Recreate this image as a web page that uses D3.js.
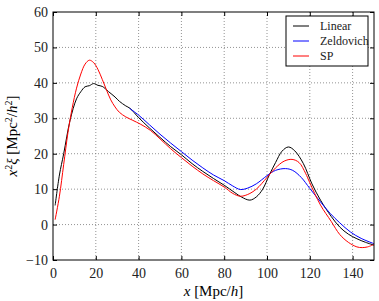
<!DOCTYPE html>
<html>
<head>
<meta charset="utf-8">
<script src="https://cdn.jsdelivr.net/npm/d3@7"></script>
<style>
  body { margin: 0; background: #fff; }
</style>
</head>
<body>
<div id="chart"></div>
<script>
// data
const linearX = [1, 3, 5, 8, 11, 13, 15, 17, 19, 21, 23, 26, 29, 31, 34, 36, 40, 45, 50, 55, 60, 65, 70, 75, 80, 85, 88, 92, 95, 98, 101, 104, 107, 110, 113, 117, 121, 125, 130, 134, 138, 142, 146, 150];
const linearY = [5.4, 14, 20, 29.5, 35.5, 37.5, 38.9, 39.2, 39.8, 39.3, 39, 37.5, 36, 34.8, 33.5, 32.8, 30.2, 27.3, 24.6, 22, 19.7, 17.2, 15, 13, 11.1, 9, 7.8, 6.9, 7.8, 10, 13.9, 17.5, 20.7, 21.9, 20.8, 17.2, 11.5, 6.9, 2.3, -0.7, -2.7, -4, -5, -5.8];

const zelX = [35.8, 40, 45, 50, 55, 60, 65, 70, 75, 80, 84, 87.5, 91, 95, 100, 104, 108.6, 112, 116, 120, 125, 129.6, 134, 139, 144, 150];
const zelY = [32.8, 30.9, 28.2, 25.5, 23, 20.6, 18.2, 16, 14, 12.4, 10.9, 9.9, 10.3, 11.5, 13.8, 15.3, 15.8, 15.3, 13.3, 10.2, 6.4, 3.1, 0.5, -2.1, -3.9, -5.4];

const spX = [1, 3, 5, 7, 9, 11, 13, 15, 17, 19, 21, 23, 25, 27, 29, 31, 34, 37, 41, 45.5, 50, 55, 60, 65, 70, 75, 80, 84, 87.5, 91, 95, 100, 104, 108, 111.7, 115, 118, 120, 125, 130, 134, 138, 142, 144.5, 147, 150];
const spY = [1.4, 8, 17, 26, 33, 38.5, 42.5, 45.3, 46.4, 45.7, 43.8, 41, 38, 35.2, 33.2, 31.7, 30.4, 29.5, 28.3, 26.6, 24.2, 21.4, 18.9, 16.5, 14.3, 12.4, 10.6, 8.8, 8.0, 8.5, 10, 13.3, 16, 17.9, 18.4, 17.5, 14.5, 11.8, 5.5, 0.9, -2.8, -5, -6.3, -6.5, -6.3, -5.6];

const seriesNames = ["Linear", "Zeldovich", "SP"];
const seriesColors = ["#000", "#00f", "#f00"];
const xTicks = [0, 20, 40, 60, 80, 100, 120, 140];
const yTicks = [-10, 0, 10, 20, 30, 40, 50, 60];

const FONT = "Liberation Serif";

const margin = {top: 12, right: 5, bottom: 41, left: 53},
    width = 379 - margin.left - margin.right,
    height = 301 - margin.top - margin.bottom;

const svg = d3.select("#chart")
  .append("svg")
    .attr("width", 379)
    .attr("height", 301)
    .attr("font-family", FONT)
  .append("g")
    .attr("transform", `translate(${margin.left},${margin.top})`);

const x = d3.scaleLinear().domain([0, 150]).range([0, width]);
const y = d3.scaleLinear().domain([-10, 60]).range([height, 0]);

// grid
svg.append("g").selectAll("line")
  .data(xTicks.slice(1))
  .enter().append("line")
    .attr("x1", d => x(d)).attr("x2", d => x(d))
    .attr("y1", 0).attr("y2", height)
    .attr("stroke", "#777").attr("stroke-width", 0.8)
    .attr("stroke-dasharray", "1,2");
svg.append("g").selectAll("line")
  .data(yTicks.slice(1, -1))
  .enter().append("line")
    .attr("y1", d => y(d)).attr("y2", d => y(d))
    .attr("x1", 0).attr("x2", width)
    .attr("stroke", "#777").attr("stroke-width", 0.8)
    .attr("stroke-dasharray", "1,2");

// curves
const line = d3.line()
  .x(d => x(d[0]))
  .y(d => y(d[1]))
  .curve(d3.curveCatmullRom.alpha(0.5));

const allSeries = [
  d3.zip(linearX, linearY),
  d3.zip(zelX, zelY),
  d3.zip(spX, spY)
];

svg.append("g").selectAll("path")
  .data(allSeries)
  .enter().append("path")
    .attr("fill", "none")
    .attr("stroke", (d, i) => seriesColors[i])
    .attr("stroke-width", 1)
    .attr("d", line);

// axes, ticks pointing inward on all sides
const fmt = d => d < 0 ? "\u2212" + Math.abs(d) : d;
const axBottom = svg.append("g")
  .attr("transform", `translate(0,${height})`)
  .call(d3.axisBottom(x).tickValues(xTicks).tickSizeInner(-4).tickSizeOuter(0).tickPadding(8).tickFormat(fmt));
const axTop = svg.append("g")
  .call(d3.axisTop(x).tickValues(xTicks).tickSizeInner(-4).tickSizeOuter(0).tickFormat(""));
const axLeft = svg.append("g")
  .call(d3.axisLeft(y).tickValues(yTicks).tickSizeInner(-4).tickSizeOuter(0).tickPadding(5).tickFormat(fmt));
const axRight = svg.append("g")
  .attr("transform", `translate(${width},0)`)
  .call(d3.axisRight(y).tickValues(yTicks).tickSizeInner(-4).tickSizeOuter(0).tickFormat(""));

[axBottom, axTop, axLeft, axRight].forEach(a => {
  a.attr("font-family", FONT).attr("font-size", 14);
  a.selectAll("text").attr("font-family", FONT).attr("font-size", 14).attr("fill", "#222");
  a.selectAll(".tick line").attr("stroke", "#000");
  a.select(".domain").remove();
});

svg.append("rect")
  .attr("width", width).attr("height", height)
  .attr("fill", "none").attr("stroke", "#000").attr("stroke-width", 1);

// axis labels
const xl = svg.append("text")
  .attr("x", width / 2)
  .attr("y", height + 36)
  .attr("text-anchor", "middle")
  .attr("font-family", FONT)
  .attr("font-size", 15);
xl.append("tspan").attr("font-style", "italic").text("x");
xl.append("tspan").text(" [Mpc/");
xl.append("tspan").attr("font-style", "italic").text("h");
xl.append("tspan").text("]");

const yl = svg.append("text")
  .attr("transform", "rotate(-90)")
  .attr("x", -height / 2)
  .attr("y", -36)
  .attr("text-anchor", "middle")
  .attr("font-family", FONT)
  .attr("font-size", 15);
yl.append("tspan").attr("font-style", "italic").text("x");
yl.append("tspan").attr("dy", -5).attr("font-size", 10).text("2");
yl.append("tspan").attr("dy", 5).attr("font-style", "italic").text("\u03BE");
yl.append("tspan").text(" [Mpc");
yl.append("tspan").attr("dy", -5).attr("font-size", 10).text("2");
yl.append("tspan").attr("dy", 5).text("/");
yl.append("tspan").attr("font-style", "italic").text("h");
yl.append("tspan").attr("dy", -5).attr("font-size", 10).text("2");
yl.append("tspan").attr("dy", 5).text("]");

// legend
const lg = svg.append("g")
  .attr("transform", `translate(${286 - margin.left},${16 - margin.top})`);
lg.append("rect")
  .attr("width", 82).attr("height", 50)
  .attr("fill", "#fff").attr("stroke", "#000").attr("stroke-width", 1);
seriesNames.forEach((name, i) => {
  const g = lg.append("g").attr("transform", `translate(0,${10 + i * 15})`);
  g.append("line")
    .attr("x1", 7).attr("x2", 23)
    .attr("stroke", seriesColors[i]).attr("stroke-width", 1);
  g.append("text")
    .attr("x", 34).attr("y", 4)
    .attr("font-family", FONT)
    .attr("font-size", 12)
    .attr("fill", "#222")
    .text(name);
});
</script>
</body>
</html>
